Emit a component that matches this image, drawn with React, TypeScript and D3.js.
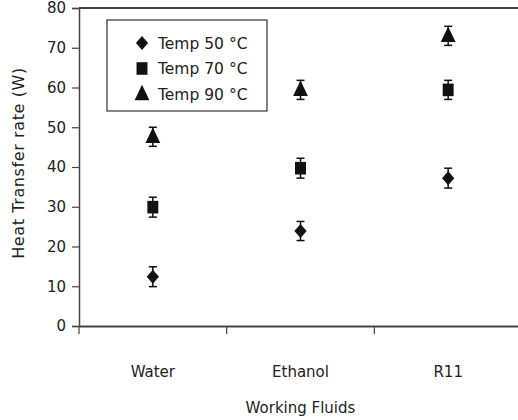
import React, { useRef, useEffect } from 'react';
import * as d3 from 'd3';

const fluids = ['Water', 'Ethanol', 'R11'];
const seriesNames = ['Temp 50 °C', 'Temp 70 °C', 'Temp 90 °C'];
const temp50 = [12.4, 23.9, 37.2];
const temp70 = [29.9, 39.7, 59.4];
const temp90 = [47.6, 59.4, 73.0];
const err50 = [2.5, 2.4, 2.5];
const err70 = [2.5, 2.5, 2.4];
const err90 = [2.4, 2.4, 2.4];
const yTicks = [0, 10, 20, 30, 40, 50, 60, 70, 80];

const FONT = "'DejaVu Sans', sans-serif";

// wide diamond, like the spreadsheet marker
const diamond = {
  draw(ctx: any, size: number) {
    const r = Math.sqrt(size) / 2;
    ctx.moveTo(0, -r * 1.15);
    ctx.lineTo(r, 0);
    ctx.lineTo(0, r * 1.15);
    ctx.lineTo(-r, 0);
    ctx.closePath();
  },
};

function App() {
  const ref = useRef<SVGSVGElement>(null);
  const outerWidth = 518, outerHeight = 420;
  const margin = { top: 8, right: -4, bottom: 94, left: 79 };
  const width = outerWidth - margin.left - margin.right,
    height = outerHeight - margin.top - margin.bottom;

  useEffect(() => {
    const svg = d3.select(ref.current);
    svg.selectAll('*').remove();
    const g = svg.append('g').attr('transform', `translate(${margin.left},${margin.top})`);

    const x = d3.scaleBand().domain(fluids).range([0, width]);
    const y = d3.scaleLinear().domain([0, 80]).range([height, 0]);

    const axisColor = '#444';

    // top border
    g.append('line').attr('x1', 0).attr('x2', width).attr('y1', 0).attr('y2', 0)
      .attr('stroke', axisColor).attr('stroke-width', 2);

    const yAxis = g.append('g').call(d3.axisLeft(y).tickValues(yTicks).tickSize(7).tickPadding(6));
    yAxis.select('.domain').attr('stroke', axisColor).attr('stroke-width', 1.5);
    yAxis.selectAll('.tick line').attr('stroke', axisColor).attr('stroke-width', 1.2);
    yAxis.selectAll('.tick text').attr('font-family', FONT).attr('font-size', 15).attr('fill', '#222');

    const xAxis = g.append('g').attr('transform', `translate(0,${height})`)
      .call(d3.axisBottom(x).tickSize(0).tickPadding(40));
    xAxis.select('.domain').attr('stroke', axisColor).attr('stroke-width', 2);
    xAxis.selectAll('.tick text').attr('font-family', FONT).attr('font-size', 15).attr('fill', '#222');
    // boundary ticks between categories
    g.selectAll('.xbound').data(fluids).enter().append('line')
      .attr('x1', (d) => x(d)!).attr('x2', (d) => x(d)!)
      .attr('y1', height).attr('y2', height + 8)
      .attr('stroke', axisColor).attr('stroke-width', 1.2);

    g.append('text').attr('x', x('Ethanol')! + x.bandwidth() / 2).attr('y', height + 87)
      .attr('text-anchor', 'middle').attr('font-family', FONT).attr('font-size', 15).attr('fill', '#222')
      .text('Working Fluids');
    svg.append('text').attr('transform', `translate(24,${margin.top + y(41)}) rotate(-90)`)
      .attr('text-anchor', 'middle').attr('font-family', FONT).attr('font-size', 16)
      .attr('letter-spacing', 0.6).attr('fill', '#222')
      .text('Heat Transfer rate (W)');

    const symbols: any[] = [diamond, d3.symbolSquare, d3.symbolTriangle];
    const series = [
      { vals: temp50, errs: err50 },
      { vals: temp70, errs: err70 },
      { vals: temp90, errs: err90 },
    ];
    const symSize = [150, 120, 95];
    const symScaleY = [1, 1.15, 1.2];

    series.forEach((s, i) => {
      fluids.forEach((f, j) => {
        const cx = x(f)! + x.bandwidth() / 2;
        const v = s.vals[j], e = s.errs[j];
        const eg = g.append('g').attr('stroke', '#111').attr('stroke-width', 1.5);
        eg.append('line').attr('x1', cx).attr('x2', cx).attr('y1', y(v + e)).attr('y2', y(v - e));
        eg.append('line').attr('x1', cx - 4).attr('x2', cx + 4).attr('y1', y(v + e)).attr('y2', y(v + e));
        eg.append('line').attr('x1', cx - 4).attr('x2', cx + 4).attr('y1', y(v - e)).attr('y2', y(v - e));
        g.append('path')
          .attr('d', d3.symbol(symbols[i], symSize[i])()!)
          .attr('transform', `translate(${cx},${y(v) + (i === 2 ? 1 : 0)}) scale(1,${symScaleY[i]})`)
          .attr('fill', '#111');
      });
    });

    // legend
    const legend = svg.append('g').attr('transform', 'translate(107,20)');
    legend.append('rect').attr('x', 0).attr('y', 0).attr('width', 160).attr('height', 91)
      .attr('fill', 'white').attr('stroke', '#333').attr('stroke-width', 1.2);
    seriesNames.forEach((name, i) => {
      const ly = 23 + i * 25.5;
      legend.append('path')
        .attr('d', d3.symbol(symbols[i], symSize[i])()!)
        .attr('transform', `translate(35,${ly + (i === 2 ? 1 : 0)}) scale(1,${symScaleY[i]})`)
        .attr('fill', '#111');
      legend.append('text').attr('x', 51).attr('y', ly + 5.5)
        .attr('font-family', FONT).attr('font-size', 15.5).attr('fill', '#222')
        .text(name);
    });
  }, []);

  return (
    <svg ref={ref} width={outerWidth} height={outerHeight}
      style={{ position: 'absolute', left: 0, top: 0, background: 'white' }} />
  );
}

export default App;
